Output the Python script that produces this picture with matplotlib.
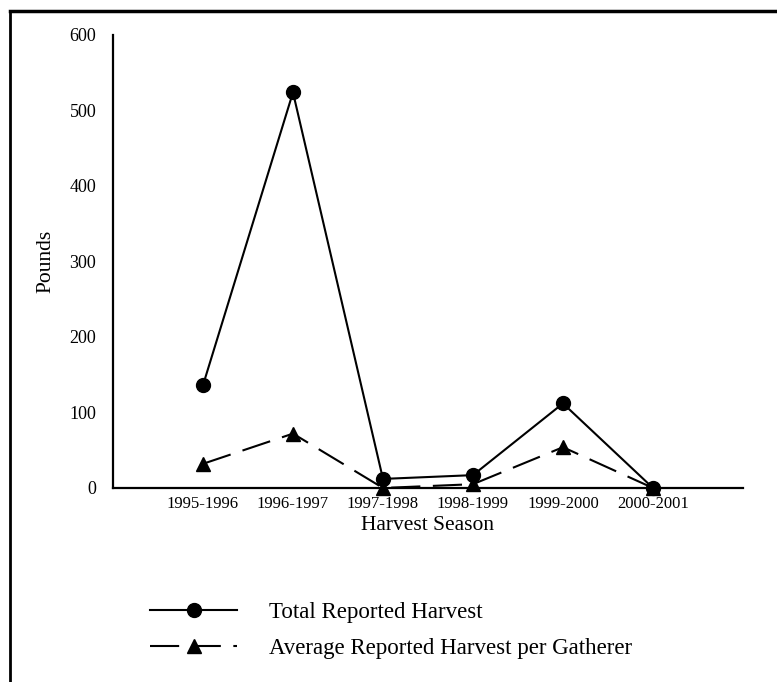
import matplotlib
matplotlib.use("Agg")
import matplotlib.pyplot as plt
from matplotlib.lines import Line2D

plt.rcParams.update({
    "font.family": ["Liberation Serif", "DejaVu Serif"],
})

# data
seasons = ["1995-1996", "1996-1997", "1997-1998", "1998-1999", "1999-2000", "2000-2001"]
total_harvest = [136, 524, 12, 17, 112, 0]
avg_per_gatherer = [32, 72, 0, 5, 54, 0]
y_ticks = [0, 100, 200, 300, 400, 500, 600]

fig = plt.figure(figsize=(7.77, 6.82), dpi=100)
ax = fig.add_axes([0.1454, 0.2845, 0.8108, 0.6642])

x = list(range(len(seasons)))
ax.plot(x, total_harvest, color="black", lw=1.5, marker="o", ms=10,
        label="Total Reported Harvest", clip_on=False, zorder=3)
ax.plot(x, avg_per_gatherer, color="black", lw=1.5, marker="^", ms=10,
        dashes=(14, 6), label="Average Reported Harvest per Gatherer",
        clip_on=False, zorder=3)

ax.set_xlim(-1, 6)
ax.set_ylim(0, 600)
ax.set_xticks(x)
ax.set_xticklabels(seasons, fontsize=12)
ax.set_yticks(y_ticks)
ax.set_yticklabels([str(v) for v in y_ticks], fontsize=13)
ax.tick_params(axis="both", length=0)
ax.tick_params(axis="y", pad=12)
ax.tick_params(axis="x", pad=6)
for side in ("top", "right"):
    ax.spines[side].set_visible(False)
for side in ("left", "bottom"):
    ax.spines[side].set_linewidth(1.6)

ax.set_xlabel("Harvest Season", fontsize=15.5, labelpad=3)
ax.set_ylabel("Pounds", fontsize=15.5, labelpad=10)

fig.legend(loc="center left", bbox_to_anchor=(0.193, 0.075), frameon=False,
           fontsize=16.5, handlelength=3.8, handletextpad=1.4, labelspacing=0.65,
           borderpad=0, borderaxespad=0)

# partial frame from the scanned page
fig.add_artist(Line2D([0.013, 0.013], [0.0, 0.984], transform=fig.transFigure,
                      color="black", lw=2))
fig.add_artist(Line2D([0.013, 1.0], [0.984, 0.984], transform=fig.transFigure,
                      color="black", lw=2.5))

fig.savefig("out.png", dpi=100)
